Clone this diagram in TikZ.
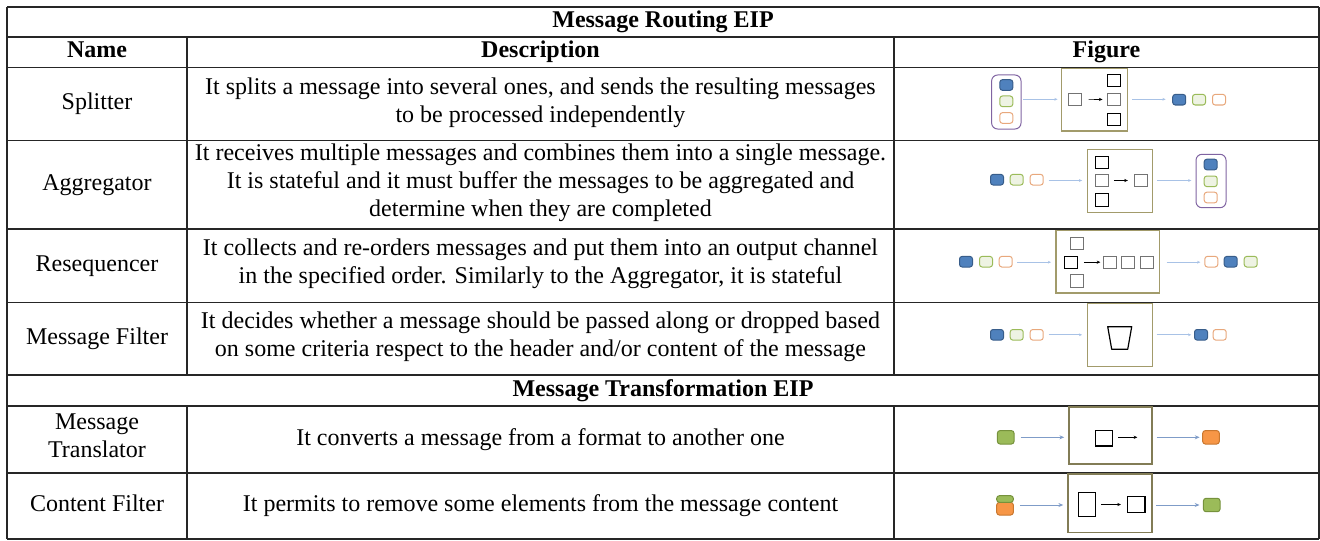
\documentclass[tikz,border=0pt]{standalone}
\usepackage{fontspec}
\setmainfont{Liberation Serif}
\usetikzlibrary{arrows.meta}
\definecolor{mblue}{HTML}{4F81BD}
\definecolor{mblueD}{HTML}{385D8A}
\definecolor{mgreenF}{HTML}{EEF3E3}
\definecolor{mgreenD}{HTML}{9BBB59}
\definecolor{morangeD}{HTML}{E8A87C}
\definecolor{purp}{HTML}{8064A2}
\definecolor{olive}{HTML}{A29B6B}
\definecolor{flowc}{HTML}{A8C2E6}
\definecolor{flowd}{HTML}{7F9CC8}
\definecolor{greenF}{HTML}{9BBB59}
\definecolor{greenD}{HTML}{76923C}
\definecolor{orangeF}{HTML}{F79646}
\definecolor{orangeD}{HTML}{C9772F}
\begin{document}
\begin{tikzpicture}[x=0.5pt,y=-0.5pt, font=\fontsize{12}{14}\selectfont,
  gridline/.style={line width=0.7pt, draw=black!85},
  txt/.style={align=center, inner sep=0pt, execute at begin node=\strut, execute at end node=\strut},
  hdr/.style={txt, font=\fontsize{12}{14}\selectfont\bfseries},
  msgbase/.style={rectangle, rounded corners=1.3pt, inner sep=0pt, minimum width=6.5pt, minimum height=5.3pt, line width=0.5pt},
  mb/.style={msgbase, fill=mblue, draw=mblueD},
  mg/.style={msgbase, fill=mgreenF, draw=mgreenD},
  mo/.style={msgbase, fill=white, draw=morangeD},
  bigg/.style={msgbase, minimum width=8.3pt, minimum height=6.7pt, fill=greenF, draw=greenD},
  bigo/.style={msgbase, minimum width=8.3pt, minimum height=6.7pt, fill=orangeF, draw=orangeD},
  cont/.style={rectangle, rounded corners=3pt, draw=purp, line width=0.5pt, inner sep=0pt},
  pbox/.style={rectangle, draw=olive, line width=0.6pt, inner sep=0pt},
  tbox/.style={rectangle, draw=olive!80!black, line width=0.9pt, inner sep=0pt},
  sq/.style={rectangle, draw=black, line width=0.5pt, inner sep=0pt, minimum width=6.5pt, minimum height=6.2pt},
  sqg/.style={sq, draw=black!55},
  flow/.style={draw=flowc, line width=0.35pt, -{Stealth[length=1.6pt,width=1.4pt]}},
  iflow/.style={draw=black, line width=0.35pt, -{Stealth[length=1.8pt,width=1.6pt]}},
  tflow/.style={draw=flowd, line width=0.5pt, -{Stealth[length=2.4pt,width=2pt]}}
]
\useasboundingbox (0,0) rectangle (1320,540);

% table grid
\foreach \yy in {7,37,67.5,140.5,229,302.5,375,406,473,539}
  \draw[gridline] (7,\yy) -- (1319,\yy);
\draw[gridline] (7,7) -- (7,539);
\draw[gridline] (1319,7) -- (1319,539);
\draw[gridline] (187,37) -- (187,375);
\draw[gridline] (894,37) -- (894,375);
\draw[gridline] (187,406) -- (187,539);
\draw[gridline] (894,406) -- (894,539);

% titles and headers
\node[hdr] (t1) at (663,22) {Message Routing EIP};
\node[hdr] (hn) at (97,52) {Name};
\node[hdr] (hd) at (540.5,52) {Description};
\node[hdr] (hf) at (1106.5,52) {Figure};
\node[hdr] (t2) at (663,390.5) {Message Transformation EIP};

% names
\node[txt] (n1) at (97,104) {Splitter};
\node[txt] (n2) at (97,184.7) {Aggregator};
\node[txt] (n3) at (97,265.7) {Resequencer};
\node[txt] (n4) at (97,338.7) {Message Filter};
\node[txt] (n5) at (97,439.5) {Message\\Translator};
\node[txt] (n6) at (97,505.5) {Content Filter};

% descriptions
\node[txt] (d1) at (540.5,104) {It splits a message into several ones, and sends the resulting messages\\to be processed independently};
\node[txt] (d2) at (540.5,184.7) {It receives multiple messages and combines them into a single message.\\It is stateful and it must buffer the messages to be aggregated and\\determine when they are completed};
\node[txt] (d3) at (540.5,265.7) {It collects and re-orders messages and put them into an output channel\\in the specified order. Similarly to the Aggregator, it is stateful};
\node[txt] (d4) at (540.5,338.7) {It decides whether a message should be passed along or dropped based\\on some criteria respect to the header and/or content of the message};
\node[txt] (d5) at (540.5,439.5) {It converts a message from a format to another one};
\node[txt] (d6) at (540.5,505.5) {It permits to remove some elements from the message content};

% ---- Splitter figure
\node[cont, minimum width=14.7pt, minimum height=27pt] (c1) at (1006.3,102) {};
\node[mb] (c1b) at (1006.3,85) {};
\node[mg] (c1g) at (1006.3,101.3) {};
\node[mo] (c1o) at (1006.3,118) {};
\node[pbox, minimum width=32.8pt, minimum height=31.3pt] (b1) at (1094.5,99.7) {};
\node[sqg] (b1i) at (1074.5,99.3) {};
\node[sq] (b1t) at (1113.7,80.8) {};
\node[sqg] (b1m) at (1113.7,99.5) {};
\node[sq] (b1u) at (1113.7,119.2) {};
\node[mb] (o1b) at (1179.2,99.7) {};
\node[mg] (o1g) at (1199,99.7) {};
\node[mo] (o1o) at (1219,99.7) {};
\draw[flow, shorten <=0.8pt, shorten >=1.8pt] (c1.east |- b1i) -- (b1.west |- b1i);
\draw[iflow, shorten <=3.5pt, shorten >=2.1pt] (b1i) -- (b1m);
\draw[flow, shorten <=2.2pt, shorten >=3.3pt] (b1.east |- b1i) -- (o1b.west |- b1i);

% ---- Aggregator figure
\node[mb] (a2b) at (997,179.7) {};
\node[mg] (a2g) at (1016.7,179.7) {};
\node[mo] (a2o) at (1036.7,179.7) {};
\node[pbox, minimum width=32.7pt, minimum height=31.5pt] (b2) at (1120,180.8) {};
\node[sq] (b2t) at (1102,162.2) {};
\node[sqg] (b2m) at (1102,180.5) {};
\node[sq] (b2u) at (1102,200) {};
\node[sqg] (b2r) at (1141.2,180.5) {};
\node[cont, minimum width=15pt, minimum height=26.7pt] (c2) at (1211,181) {};
\node[mb] (c2b) at (1210.7,164.5) {};
\node[mg] (c2g) at (1210.7,181.3) {};
\node[mo] (c2o) at (1210.7,197.5) {};
\draw[flow, shorten <=2.5pt, shorten >=2.3pt] (a2o.east |- b2m) -- (b2.west |- b2m);
\draw[iflow, shorten <=2.4pt, shorten >=3.2pt] (b2m) -- (b2r);
\draw[flow, shorten <=2pt, shorten >=2.1pt] (b2.east |- b2m) -- (c2.west |- b2m);

% ---- Resequencer figure
\node[mb] (r3b) at (966,261.7) {};
\node[mg] (r3g) at (986,261.7) {};
\node[mo] (r3o) at (1005.7,261.7) {};
\node[pbox, minimum width=51.7pt, minimum height=31.2pt] (b3) at (1107.7,261.8) {};
\node[sqg] (b3t) at (1077.3,243.5) {};
\node[sq] (b3m) at (1071,262.2) {};
\node[sqg] (b3u) at (1077.3,280.8) {};
\node[sqg] (b3a) at (1109.7,262.2) {};
\node[sqg] (b3b) at (1128.2,262.2) {};
\node[sqg] (b3c) at (1146.7,262.2) {};
\node[mo] (q3o) at (1211.3,261.7) {};
\node[mb] (q3b) at (1230.7,261.7) {};
\node[mg] (q3g) at (1250.7,261.7) {};
\draw[flow, shorten <=2.2pt, shorten >=2.2pt] (r3o.east |- b3m) -- (b3.west |- b3m);
\draw[iflow, shorten <=2.9pt, shorten >=1.2pt] (b3m) -- (b3a);
\draw[flow, shorten <=3.3pt, shorten >=2pt] (b3.east |- b3m) -- (q3o.west |- b3m);

% ---- Message Filter figure
\node[mb] (f4b) at (997,334.8) {};
\node[mg] (f4g) at (1016.7,334.8) {};
\node[mo] (f4o) at (1036.7,334.8) {};
\node[pbox, minimum width=32.7pt, minimum height=31.7pt] (b4) at (1120,335) {};
\draw[line width=0.6pt, line join=round] (1107.7,326.7) -- (1131.7,326.7) -- (1127.7,349.3) -- (1111.7,349.3) -- cycle;
\node[mb] (p4b) at (1201,334.8) {};
\node[mo] (p4o) at (1219.7,334.8) {};
\draw[flow, shorten <=2.5pt, shorten >=2.3pt] (f4o.east) -- (b4.west |- f4o);
\draw[flow, shorten <=1.7pt, shorten >=1.4pt] (b4.east |- f4o) -- (p4b.west);

% ---- Message Translator figure
\node[bigg] (in5) at (1005.7,437.3) {};
\node[tbox, minimum width=41.2pt, minimum height=28.7pt] (b5) at (1110.5,435.3) {};
\node[sq, line width=0.7pt, minimum width=8.5pt, minimum height=7.7pt] (b5s) at (1104.2,438.3) {};
\coordinate (b5e) at (1137.3,437.3);
\node[bigo] (out5) at (1211,437.3) {};
\draw[tflow, shorten <=3pt, shorten >=2.1pt] (in5.east) -- (b5.west |- in5);
\draw[iflow, shorten <=2.5pt] (b5s.east |- b5e) -- (b5e);
\draw[tflow, shorten <=2pt, shorten >=1.3pt] (b5.east |- in5) -- (out5.west);

% ---- Content Filter figure
\node[msgbase, minimum width=8.3pt, minimum height=6.3pt, fill=orangeF, draw=orangeD] (cfo) at (1005,508.7) {};
\node[msgbase, minimum width=8.3pt, minimum height=3.3pt, fill=greenF, draw=greenD] (cfg) at (1005,499) {};
\node[tbox, minimum width=41.7pt, minimum height=29.2pt] (b6) at (1110,503.2) {};
\node[sq, line width=0.7pt, minimum width=8.7pt, minimum height=11.8pt] (b6a) at (1087,504.5) {};
\node[sq, line width=0.7pt, minimum width=8.7pt, minimum height=7.8pt] (b6b) at (1136.3,504.5) {};
\node[bigg] (out6) at (1211.7,505) {};
\draw[tflow, shorten <=3pt, shorten >=2.1pt] (cfo.east |- out6) -- (b6.west |- out6);
\draw[iflow, shorten <=2.5pt, shorten >=3pt] (b6a) -- (b6b);
\draw[tflow, shorten <=1.7pt, shorten >=1.7pt] (b6.east |- out6) -- (out6.west);
\end{tikzpicture}
\end{document}
